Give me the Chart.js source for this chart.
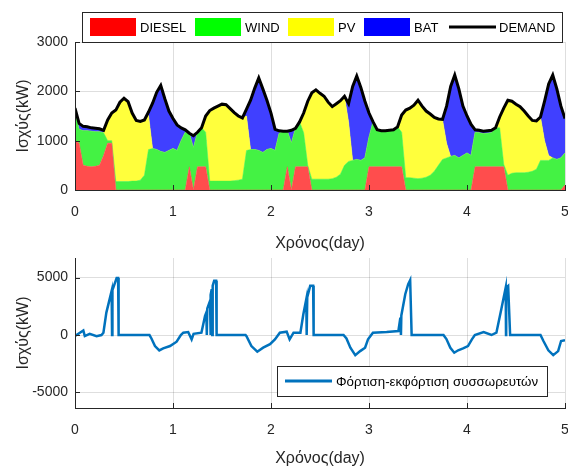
<!DOCTYPE html>
<html>
<head>
<meta charset="utf-8">
<script src="https://cdn.jsdelivr.net/npm/chart.js@4"></script>
<style>
  body { margin: 0; background: #fff; }
  canvas { display: block; }
</style>
</head>
<body>
<canvas id="energyChart" width="568" height="256"></canvas>
<canvas id="batteryChart" width="568" height="212"></canvas>
<script>
// hourly samples over 5 days
const hours = [
  0, 1, 2, 3, 4, 5, 6, 7, 8, 9, 10, 11, 12, 13, 14, 15, 16, 17, 18, 19, 20, 21, 22, 23,
  24, 25, 26, 27, 28, 29, 30, 31, 32, 33, 34, 35, 36, 37, 38, 39, 40, 41, 42, 43, 44, 45, 46, 47,
  48, 49, 50, 51, 52, 53, 54, 55, 56, 57, 58, 59, 60, 61, 62, 63, 64, 65, 66, 67, 68, 69, 70, 71,
  72, 73, 74, 75, 76, 77, 78, 79, 80, 81, 82, 83, 84, 85, 86, 87, 88, 89, 90, 91, 92, 93, 94, 95,
  96, 97, 98, 99, 100, 101, 102, 103, 104, 105, 106, 107, 108, 109, 110, 111, 112, 113, 114, 115, 116, 117, 118, 119, 120
];

const demand = [
  1660, 1350, 1290, 1280, 1260, 1250, 1240, 1210, 1420, 1560, 1620, 1780, 1860, 1790, 1560, 1410, 1390, 1420, 1580, 1760, 1980, 2120, 1850, 1600,
  1450, 1320, 1260, 1220, 1150, 1100, 1170, 1260, 1500, 1610, 1660, 1700, 1740, 1730, 1650, 1570, 1500, 1460, 1640, 1820, 2060, 2270, 2050, 1820,
  1560, 1230, 1200, 1190, 1190, 1210, 1250, 1380, 1560, 1800, 1970, 2030, 1960, 1900, 1780, 1690, 1750, 1810, 1900, 1750, 2100, 2310, 2080, 1800,
  1560, 1380, 1220, 1200, 1200, 1210, 1220, 1280, 1520, 1620, 1660, 1720, 1820, 1700, 1600, 1540, 1470, 1440, 1430, 1700, 2100, 2330, 2050, 1700,
  1500, 1330, 1220, 1210, 1190, 1200, 1210, 1260, 1480, 1660, 1820, 1800, 1740, 1690, 1600, 1500, 1410, 1400, 1480, 1800, 2150, 2330, 2050, 1700, 1450
];

const diesel = [
  1000, 950, 500, 480, 470, 480, 500, 700, 950, 950, 0, 0, 0, 0, 0, 0, 0, 0, 0, 0, 0, 0, 0, 0,
  0, 0, 0, 0, 470, 0, 470, 470, 470, 0, 0, 0, 0, 0, 0, 0, 0, 0, 0, 0, 0, 0, 0, 0,
  0, 0, 0, 0, 470, 0, 470, 470, 470, 470, 0, 0, 0, 0, 0, 0, 0, 0, 0, 0, 0, 0, 0, 0,
  470, 470, 470, 470, 470, 470, 470, 470, 470, 0, 0, 0, 0, 0, 0, 0, 0, 0, 0, 0, 0, 0, 0, 0,
  0, 0, 470, 470, 470, 470, 470, 470, 470, 470, 0, 0, 0, 0, 0, 0, 0, 0, 0, 0, 0, 0, 0, 0, 100
];

const wind = [
  560, 280, 700, 720, 720, 700, 680, 460, 50, 50, 170, 170, 170, 170, 180, 180, 200, 300, 820, 840, 820, 780, 760, 800,
  840, 800, 1000, 1170, 680, 850, 700, 790, 700, 180, 180, 180, 180, 180, 180, 190, 200, 220, 800, 820, 820, 800, 760, 820,
  840, 800, 1150, 1190, 720, 950, 780, 910, 690, 30, 220, 220, 220, 220, 220, 230, 260, 320, 500, 580, 600, 620, 600, 650,
  600, 910, 750, 730, 730, 740, 750, 810, 700, 250, 250, 240, 230, 240, 260, 300, 380, 500, 620, 650, 680, 700, 650, 700,
  750, 700, 700, 690, 670, 680, 690, 790, 790, 50, 300, 340, 350, 350, 350, 360, 380, 420, 600, 600, 600, 650, 620, 650, 650
];

const pv = [
  0, 0, 0, 0, 0, 0, 0, 0, 420, 560, 1450, 1610, 1690, 1620, 1380, 1230, 1190, 1120, 700, 0, 0, 0, 0, 0,
  0, 0, 0, 0, 0, 0, 0, 0, 330, 1430, 1480, 1520, 1560, 1550, 1470, 1380, 1300, 1240, 700, 0, 0, 0, 0, 0,
  0, 0, 0, 0, 0, 0, 0, 0, 400, 1300, 1750, 1810, 1740, 1680, 1560, 1460, 1490, 1490, 1400, 800, 0, 0, 0, 0,
  0, 0, 0, 0, 0, 0, 0, 0, 350, 1370, 1410, 1480, 1590, 1460, 1340, 1240, 1090, 940, 810, 300, 0, 0, 0, 0,
  0, 0, 0, 0, 0, 0, 0, 0, 220, 1140, 1520, 1460, 1390, 1340, 1250, 1140, 1030, 980, 880, 400, 100, 0, 0, 0, 0
];

const bat = [
  100, 120, 90, 80, 70, 70, 60, 50, 0, 0, 0, 0, 0, 0, 0, 0, 0, 0, 60, 920, 1160, 1340, 1090, 800,
  610, 520, 260, 50, 0, 250, 0, 0, 0, 0, 0, 0, 0, 0, 0, 0, 0, 0, 140, 1000, 1240, 1470, 1290, 1000,
  720, 430, 50, 0, 0, 260, 0, 0, 0, 0, 0, 0, 0, 0, 0, 0, 0, 0, 0, 370, 1500, 1690, 1480, 1150,
  490, 0, 0, 0, 0, 0, 0, 0, 0, 0, 0, 0, 0, 0, 0, 0, 0, 0, 0, 750, 1420, 1630, 1400, 1000,
  750, 630, 50, 50, 50, 50, 50, 0, 0, 0, 0, 0, 0, 0, 0, 0, 0, 0, 0, 800, 1450, 1680, 1430, 1050, 700
];

// battery charge / discharge (days, kW)
const batTime = [
  0.00, 0.05, 0.085, 0.10, 0.15, 0.22, 0.27, 0.29, 0.32, 0.374, 0.378, 0.382, 0.425, 0.44, 0.445,
  0.76, 0.78, 0.816, 0.86, 0.90, 0.97, 1.037, 1.08, 1.105, 1.155, 1.19, 1.21, 1.29, 1.327, 1.34,
  1.345, 1.35, 1.378, 1.382, 1.386, 1.395, 1.40, 1.405, 1.42, 1.44, 1.445,
  1.74, 1.75, 1.80, 1.86, 1.92, 1.99, 2.04, 2.09, 2.16, 2.19, 2.23, 2.30, 2.33, 2.36, 2.364, 2.37,
  2.40, 2.43, 2.435, 2.74, 2.77, 2.81, 2.86, 2.91, 2.96, 2.99, 3.04, 3.18, 3.30, 3.32, 3.326, 3.33,
  3.37, 3.40, 3.42, 3.435, 3.76, 3.79, 3.83, 3.87, 3.91, 3.96, 4.01, 4.05, 4.08, 4.17, 4.25, 4.30,
  4.35, 4.395, 4.398, 4.40, 4.42, 4.44, 4.75, 4.78, 4.83, 4.88, 4.93, 4.96, 5.00
];
const batPower = [
  -90, 200, 400, -90, 100, -100, 0, 200, 1950, 3840, 0, 3900, 4950, 4950, 0,
  0, -300, -960, -1340, -1160, -960, -580, 0, 200, 260, -380, 100, 200, 1660, 1950,
  0, 2300, 2970, 0, 3500, 3990, 0, 4300, 4710, 4710, 0,
  0, -100, -960, -1450, -1100, -800, -380, 200, 290, -380, 200, 200, 1800, 3110, 0, 3300,
  4280, 4280, 0, 0, -300, -1110, -1750, -1400, -1100, -380, 200, 260, 350, 1510, 0, 1700,
  3550, 4420, 4770, 0, 0, -350, -1110, -1540, -1330, -1170, -960, -380, 0, 260, 0, 200,
  2240, 4130, 0, 4130, 4280, 0, 0, -520, -1330, -1750, -1400, -520, -450
];

const legendLabels = ['DIESEL', 'WIND', 'PV', 'BAT', 'DEMAND'];
const batLabel = 'Φόρτιση-εκφόρτιση συσσωρευτών';
const dayTicks = [0, 1, 2, 3, 4, 5];
const powerTicks = [0, 1000, 2000, 3000];
const batTicks = [-5000, 0, 5000];

Chart.defaults.font.family = '"Liberation Sans", Arial, sans-serif';
Chart.defaults.color = '#262626';

const axisColor = '#262626';
const gridColor = 'rgba(0,0,0,0.13)';
const areaColors = ['rgb(255,77,77)', 'rgb(68,242,68)', 'rgb(255,255,60)', 'rgb(64,64,255)'];
const swatchColors = ['#ff0000', '#00ff00', '#ffff00', '#0000ff'];

const days = hours.map(h => h / 24);
const toPoints = (xs, ys) => xs.map((x, i) => ({ x: x, y: ys[i] }));

// matlab style: inward ticks and axis lines over the data
const axisLines = {
  id: 'axisLines',
  afterDatasetsDraw(chart) {
    const { ctx, chartArea: a, scales } = chart;
    ctx.save();
    ctx.strokeStyle = axisColor;
    ctx.lineWidth = 1;
    ctx.beginPath();
    ctx.moveTo(a.left + 0.5, a.top);
    ctx.lineTo(a.left + 0.5, a.bottom + 0.5);
    ctx.lineTo(a.right, a.bottom + 0.5);
    scales.x.ticks.forEach(t => {
      const px = Math.round(scales.x.getPixelForValue(t.value)) + 0.5;
      ctx.moveTo(px, a.bottom);
      ctx.lineTo(px, a.bottom - 5);
    });
    scales.y.ticks.forEach(t => {
      const py = Math.round(scales.y.getPixelForValue(t.value)) + 0.5;
      ctx.moveTo(a.left, py);
      ctx.lineTo(a.left + 5, py);
    });
    ctx.stroke();
    ctx.restore();
  }
};

const energyLegend = {
  id: 'energyLegend',
  afterDraw(chart) {
    const ctx = chart.ctx;
    const xs = [90, 195, 288, 364, 449];
    ctx.save();
    ctx.fillStyle = '#fff';
    ctx.fillRect(82, 12, 481, 30);
    ctx.strokeStyle = axisColor;
    ctx.lineWidth = 1;
    ctx.strokeRect(82.5, 12.5, 480, 30);
    ctx.font = '13px "Liberation Sans", Arial, sans-serif';
    ctx.textBaseline = 'middle';
    legendLabels.forEach((label, i) => {
      if (i < 4) {
        ctx.fillStyle = swatchColors[i];
        ctx.fillRect(xs[i], 18, 46, 18);
      } else {
        ctx.strokeStyle = '#000';
        ctx.lineWidth = 3;
        ctx.beginPath();
        ctx.moveTo(xs[i], 27);
        ctx.lineTo(xs[i] + 47, 27);
        ctx.stroke();
      }
      ctx.fillStyle = '#000';
      ctx.fillText(label, xs[i] + 50, 28);
    });
    ctx.restore();
  }
};

const batteryLegend = {
  id: 'batteryLegend',
  afterDraw(chart) {
    const ctx = chart.ctx;
    ctx.save();
    ctx.fillStyle = '#fff';
    ctx.fillRect(277, 110, 270, 30);
    ctx.strokeStyle = axisColor;
    ctx.lineWidth = 1;
    ctx.strokeRect(277.5, 110.5, 270, 30);
    ctx.strokeStyle = '#0072BD';
    ctx.lineWidth = 3;
    ctx.beginPath();
    ctx.moveTo(285, 125);
    ctx.lineTo(332, 125);
    ctx.stroke();
    ctx.fillStyle = '#000';
    ctx.font = '13.3px "Liberation Sans", Arial, sans-serif';
    ctx.textBaseline = 'middle';
    ctx.fillText(batLabel, 336, 126);
    ctx.restore();
  }
};

function xAxis(height, titleGap) {
  return {
    type: 'linear',
    min: 0,
    max: 5,
    afterBuildTicks: s => { s.ticks = dayTicks.map(v => ({ value: v })); },
    afterFit: s => { s.height = height; s.paddingLeft = 0; s.paddingRight = 0; },
    grid: { color: gridColor, drawTicks: false },
    border: { color: axisColor },
    ticks: { padding: 14, font: { size: 14 }, color: axisColor, callback: v => String(v) },
    title: { display: true, text: 'Χρόνος(day)', font: { size: 16 }, color: axisColor, padding: { top: 0, bottom: titleGap } }
  };
}

function yAxis(min, max, tickValues, stacked) {
  return {
    min: min,
    max: max,
    stacked: stacked,
    afterBuildTicks: s => { s.ticks = tickValues.map(v => ({ value: v })); },
    afterFit: s => { s.width = 75; s.paddingTop = 0; s.paddingBottom = 0; },
    grid: { color: gridColor, drawTicks: false },
    border: { color: axisColor },
    ticks: { padding: 7, font: { size: 14 }, color: axisColor, callback: v => String(v) },
    title: { display: true, text: 'Ισχύς(kW)', font: { size: 16 }, color: axisColor, padding: { top: 14, bottom: 0 } }
  };
}

const areaNames = ['DIESEL', 'WIND', 'PV', 'BAT'];
const areaSeries = [diesel, wind, pv, bat];

const energyData = {
  datasets: [{
    label: 'DEMAND',
    data: toPoints(days, demand),
    stack: 'demand',
    borderColor: '#000',
    borderWidth: 3,
    pointRadius: 0,
    fill: false
  }].concat(areaSeries.map((vals, i) => ({
    label: areaNames[i],
    data: toPoints(days, vals),
    borderColor: areaColors[i],
    backgroundColor: areaColors[i],
    borderWidth: 0.5,
    pointRadius: 0,
    fill: i === 0 ? 'origin' : '-1'
  })))
};

new Chart(document.getElementById('energyChart'), {
  type: 'line',
  data: energyData,
  options: {
    responsive: false,
    animation: false,
    devicePixelRatio: 1,
    layout: { padding: { top: 42, right: 3, bottom: 0, left: 0 } },
    plugins: { legend: { display: false }, tooltip: { enabled: false } },
    scales: {
      x: xAxis(66, 3),
      y: yAxis(0, 3000, powerTicks, true)
    }
  },
  plugins: [axisLines, energyLegend]
});

new Chart(document.getElementById('batteryChart'), {
  type: 'line',
  data: {
    datasets: [{
      label: batLabel,
      data: toPoints(batTime, batPower),
      borderColor: '#0072BD',
      borderWidth: 2.5,
      pointRadius: 0,
      fill: false
    }]
  },
  options: {
    responsive: false,
    animation: false,
    devicePixelRatio: 1,
    layout: { padding: { top: 2, right: 3, bottom: 0, left: 0 } },
    plugins: { legend: { display: false }, tooltip: { enabled: false } },
    scales: {
      x: xAxis(60, 0),
      y: yAxis(-6350, 6700, batTicks, false)
    }
  },
  plugins: [axisLines, batteryLegend]
});
</script>
</body>
</html>
